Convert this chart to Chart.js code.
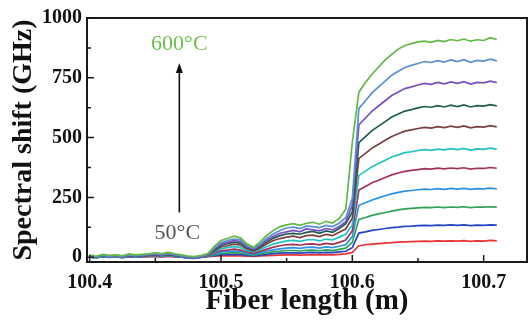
<!DOCTYPE html>
<html>
<head>
<meta charset="utf-8">
<script src="https://cdn.jsdelivr.net/npm/chart.js@4.4.1/dist/chart.umd.min.js"></script>
<style>
    body { margin: 0; background: #fff; }
    #wrap { width: 529px; height: 322px; }
</style>
</head>
<body>
<div id="wrap"><canvas id="myChart"></canvas></div>
<script>
// fiber position (m) of every sample
let fiberLength = [100.400, 100.405, 100.410, 100.415, 100.420, 100.425, 100.430, 100.435, 100.440, 100.445,
    100.450, 100.455, 100.460, 100.465, 100.470, 100.475, 100.480, 100.485, 100.490, 100.495,
    100.500, 100.505, 100.510, 100.515, 100.520, 100.525, 100.530, 100.535, 100.540, 100.545,
    100.550, 100.555, 100.560, 100.565, 100.570, 100.575, 100.580, 100.585, 100.590, 100.595,
    100.600, 100.605, 100.610, 100.615, 100.620, 100.625, 100.630, 100.635, 100.640, 100.645,
    100.650, 100.655, 100.660, 100.665, 100.670, 100.675, 100.680, 100.685, 100.690, 100.695,
    100.700, 100.705, 100.710];

// spectral shift (GHz) per temperature
let shift600 = [10, 4, 12, 8, 10, 6, 14, 10, 12, 14, 18, 15, 20, 14, 10, 5, 3, 8,
    15, 45, 70, 78, 88, 80, 55, 42, 65, 92, 112, 128, 135, 140, 133, 142, 146, 138, 150, 143, 162, 200,
    480, 690, 730, 765, 795, 825, 848, 870, 885, 893, 900, 903, 898, 906, 901, 910, 905, 912, 903, 909, 906, 918, 910];
let shift550 = [6, 2, 9, 5, 8, 4, 10, 7, 10, 12, 15, 11, 17, 11, 7, 2, 0, 5,
    12, 38, 60, 70, 76, 72, 48, 38, 55, 80, 98, 112, 122, 126, 120, 130, 128, 124, 133, 128, 142, 165,
    245, 622, 654, 687, 712, 736, 761, 777, 793, 802, 810, 818, 814, 822, 816, 825, 818, 826, 815, 823, 820, 828, 821];
let shift500 = [4, 0, 7, 3, 6, 2, 8, 5, 7, 10, 12, 9, 14, 9, 5, -2, -4, 3,
    10, 34, 55, 62, 70, 64, 44, 33, 50, 72, 88, 100, 106, 112, 106, 118, 114, 110, 120, 114, 128, 148,
    218, 553, 582, 611, 632, 654, 676, 691, 705, 712, 720, 727, 723, 731, 725, 733, 727, 734, 724, 731, 729, 736, 730];
let shift450 = [5, 1, 6, 4, 5, 3, 7, 6, 8, 9, 11, 10, 13, 8, 6, 0, -2, 4,
    10, 30, 50, 57, 63, 58, 40, 30, 46, 64, 80, 90, 97, 100, 96, 104, 108, 100, 110, 104, 120, 140,
    189, 479, 504, 529, 548, 567, 586, 599, 611, 617, 624, 630, 627, 634, 628, 636, 630, 637, 628, 634, 632, 638, 633];
let shift400 = [3, 2, 5, 3, 4, 2, 6, 4, 6, 7, 9, 8, 11, 7, 4, 1, -1, 3,
    8, 26, 44, 48, 55, 50, 34, 26, 40, 56, 70, 78, 84, 88, 82, 90, 92, 86, 95, 90, 104, 118,
    163, 413, 434, 456, 472, 489, 505, 516, 527, 532, 538, 543, 540, 546, 542, 548, 543, 549, 541, 546, 544, 550, 545];
let shift350 = [2, -3, 4, 1, 3, 0, 5, 3, 5, 6, 8, 6, 9, 5, 3, -1, -3, 2,
    7, 22, 36, 40, 44, 40, 28, 22, 32, 45, 55, 62, 68, 70, 66, 72, 74, 68, 76, 72, 84, 96,
    135, 342, 360, 378, 392, 405, 419, 428, 437, 441, 446, 450, 447, 452, 449, 454, 450, 455, 448, 453, 451, 456, 452];
let shift300 = [3, 1, 4, 2, 3, 1, 4, 3, 4, 5, 7, 5, 8, 5, 3, 0, -1, 2,
    6, 18, 28, 30, 34, 30, 22, 16, 25, 34, 42, 48, 52, 54, 50, 55, 56, 52, 58, 54, 62, 72,
    111, 281, 296, 311, 322, 333, 344, 352, 359, 363, 366, 370, 368, 372, 369, 373, 370, 374, 368, 372, 371, 375, 372];
let shift250 = [1, -2, 3, 0, 2, -1, 3, 1, 3, 4, 6, 4, 7, 3, 1, -3, -4, 1,
    5, 14, 22, 23, 26, 24, 16, 12, 19, 26, 31, 35, 38, 40, 37, 41, 42, 38, 43, 40, 46, 52,
    86, 217, 228, 239, 248, 257, 265, 271, 276, 279, 282, 285, 283, 287, 284, 288, 285, 288, 284, 287, 286, 289, 286];
let shift200 = [2, 0, 3, 1, 2, 0, 3, 2, 3, 4, 5, 4, 6, 3, 2, -1, -2, 1,
    4, 10, 16, 17, 19, 17, 12, 9, 14, 19, 22, 25, 28, 28, 26, 29, 30, 27, 31, 28, 33, 38,
    62, 158, 166, 175, 181, 187, 193, 198, 202, 204, 206, 208, 207, 210, 207, 210, 208, 211, 207, 210, 209, 211, 209];
let shift150 = [0, -3, 2, -1, 1, -2, 2, 0, 2, 3, 4, 2, 5, 2, 0, -4, -5, -1,
    3, 7, 11, 11, 12, 11, 8, 6, 9, 12, 15, 17, 18, 18, 17, 19, 20, 18, 20, 19, 22, 25,
    40, 101, 106, 112, 116, 120, 124, 126, 129, 130, 132, 133, 132, 134, 133, 135, 133, 135, 132, 134, 133, 135, 134];
let shift100 = [1, -1, 1, 0, 1, -1, 1, 0, 1, 2, 2, 1, 3, 1, 0, -2, -2, 0,
    2, 4, 6, 6, 7, 6, 4, 3, 5, 7, 8, 9, 10, 10, 9, 10, 11, 10, 11, 10, 12, 14,
    20, 48, 52, 55, 57, 59, 61, 63, 64, 65, 66, 67, 66, 68, 67, 68, 67, 69, 66, 68, 67, 70, 68];

let temperatures = ['600', '550', '500', '450', '400', '350', '300', '250', '200', '150', '100'];
let series = [shift600, shift550, shift500, shift450, shift400, shift350, shift300, shift250, shift200, shift150, shift100];
let lineColors = ['#62b844', '#5b8fd2', '#7650c2', '#1f5c4e', '#7a4040', '#22c2c4', '#a2305c', '#2c92e2', '#2fa253', '#2444c4', '#e83434'];

let xTicks = [100.4, 100.5, 100.6, 100.7];
let xMinor = [100.45, 100.55, 100.65];
let yTicks = [0, 250, 500, 750, 1000];
let yMinor = [125, 375, 625, 875];

const serif = "'Liberation Serif', 'Times New Roman', serif";

let datasets = series.map(function (vals, k) {
    return {
        label: temperatures[k] + '°C',
        data: vals.map(function (v, i) { return { x: fiberLength[i], y: v }; }),
        borderColor: lineColors[k],
        borderWidth: 1.7,
        pointRadius: 0,
        tension: 0
    };
});

// box around the plot, inward ticks and the temperature arrow
const framePlugin = {
    id: 'frame',
    afterDraw: function (chart) {
        let ctx = chart.ctx;
        let a = chart.chartArea;
        let xs = chart.scales.x, ys = chart.scales.y;
        ctx.save();
        ctx.strokeStyle = '#1a1a1a';
        ctx.lineWidth = 2;
        ctx.strokeRect(a.left, a.top, a.right - a.left, a.bottom - a.top);

        ctx.lineWidth = 1.5;
        ctx.beginPath();
        xTicks.concat(xMinor).forEach(function (v) {
            let px = xs.getPixelForValue(v);
            let len = xTicks.includes(v) ? 7 : 4;
            ctx.moveTo(px, a.bottom);
            ctx.lineTo(px, a.bottom - len);
        });
        yTicks.concat(yMinor).forEach(function (v) {
            let py = ys.getPixelForValue(v);
            let len = yTicks.includes(v) ? 7 : 4;
            ctx.moveTo(a.left, py);
            ctx.lineTo(a.left + len, py);
        });
        ctx.stroke();

        // arrow from 50°C up to 600°C
        let ax = xs.getPixelForValue(100.4683);
        let yLow = ys.getPixelForValue(187);
        let yHigh = ys.getPixelForValue(812);
        ctx.strokeStyle = '#111';
        ctx.fillStyle = '#111';
        ctx.lineWidth = 1.6;
        ctx.beginPath();
        ctx.moveTo(ax, yLow);
        ctx.lineTo(ax, yHigh + 8);
        ctx.stroke();
        ctx.beginPath();
        ctx.moveTo(ax, yHigh);
        ctx.lineTo(ax - 3.5, yHigh + 10);
        ctx.lineTo(ax + 3.5, yHigh + 10);
        ctx.closePath();
        ctx.fill();

        ctx.font = '22px ' + serif;
        ctx.textAlign = 'center';
        ctx.textBaseline = 'middle';
        ctx.fillStyle = '#6cc04c';
        ctx.fillText('600°C', ax, ys.getPixelForValue(892));
        ctx.fillStyle = '#555';
        ctx.fillText('50°C', ax - 2, ys.getPixelForValue(100));
        ctx.restore();
    }
};

new Chart('myChart', {
    type: 'line',
    data: { datasets: datasets },
    options: {
        responsive: true,
        maintainAspectRatio: false,
        animation: false,
        layout: { padding: { top: 18, right: 2, left: 0, bottom: 0 } },
        plugins: {
            legend: { display: false },
            tooltip: { enabled: false }
        },
        scales: {
            x: {
                type: 'linear',
                min: 100.398,
                max: 100.733,
                afterBuildTicks: function (scale) {
                    scale.ticks = xTicks.map(function (v) { return { value: v }; });
                },
                afterFit: function (scale) { scale.height = 60; },
                grid: { display: false, drawTicks: false },
                border: { display: false },
                ticks: {
                    padding: 9,
                    maxRotation: 0,
                    color: '#111',
                    font: { family: serif, size: 20, weight: 'bold' },
                    callback: function (v) { return v.toFixed(1); }
                },
                title: {
                    display: true,
                    text: 'Fiber length (m)',
                    color: '#111',
                    padding: { top: 0, bottom: 3 },
                    font: { family: serif, size: 29, weight: 'bold' }
                }
            },
            y: {
                min: -20,
                max: 1000,
                afterBuildTicks: function (scale) {
                    scale.ticks = yTicks.map(function (v) { return { value: v }; });
                },
                afterFit: function (scale) { scale.width = 87; },
                grid: { display: false, drawTicks: false },
                border: { display: false },
                ticks: {
                    padding: 5,
                    color: '#111',
                    font: { family: serif, size: 20, weight: 'bold' },
                    callback: function (v) { return String(v); }
                },
                title: {
                    display: true,
                    text: 'Spectral shift (GHz)',
                    color: '#111',
                    padding: { top: 7, bottom: 0 },
                    font: { family: serif, size: 28, weight: 'bold' }
                }
            }
        }
    },
    plugins: [framePlugin]
});
</script>
</body>
</html>
